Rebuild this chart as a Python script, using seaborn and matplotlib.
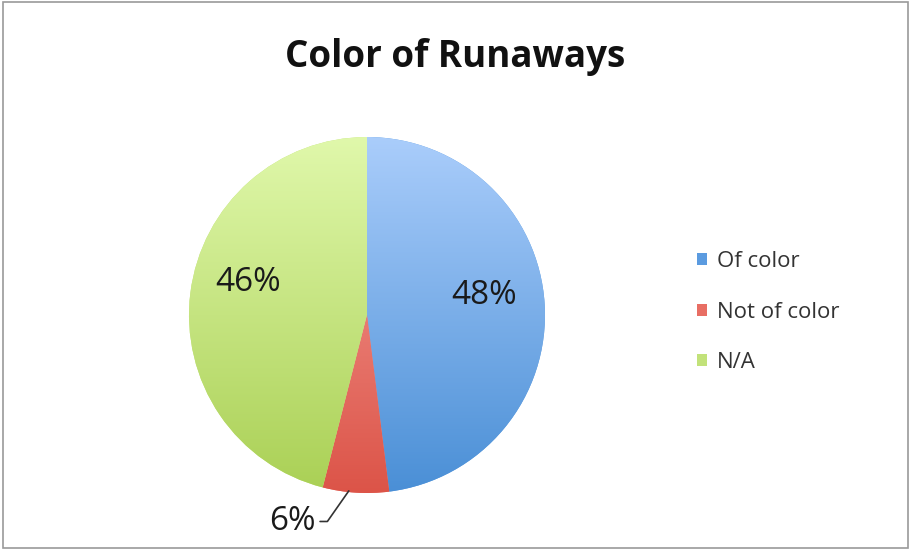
import numpy as np
import seaborn as sns
import matplotlib.pyplot as plt
from matplotlib.colors import LinearSegmentedColormap
from matplotlib.patches import Patch, Rectangle

categories = ['Of color', 'Not of color', 'N/A']
shares = [48, 6, 46]
# gradient colours, top -> bottom
top_colors = ['#aacdfb', '#f6a29c', '#e0f8ab']
bottom_colors = ['#4a8fd6', '#dc5448', '#aad055']
legend_colors = ['#5b9be0', '#e86e64', '#c2e27a']

sns.set_style('white')
plt.rcParams['font.family'] = ['Open Sans', 'DejaVu Sans']

fig = plt.figure(figsize=(9.11, 5.5), dpi=100)
r_px = 178
cx, cy = 367, 315
ax = fig.add_axes([(cx - r_px) / 911, (550 - cy - r_px) / 550, 2 * r_px / 911, 2 * r_px / 550])

wedges, texts, autotexts = ax.pie(shares, startangle=90, counterclock=False,
                                  colors=legend_colors, autopct='%d%%', pctdistance=0.68,
                                  textprops={'fontsize': 24, 'color': '#1a1a1a'},
                                  wedgeprops={'linewidth': 0})

# vertical gradient fill, clipped to each wedge
grad = np.linspace(0, 1, 256).reshape(-1, 1)
for w, c0, c1 in zip(wedges, top_colors, bottom_colors):
    cmap = LinearSegmentedColormap.from_list('g', [c0, c1])
    im = ax.imshow(grad, cmap=cmap, extent=[-1, 1, -1, 1], origin='upper',
                   aspect='auto', zorder=1.5)
    im.set_clip_path(w)

ax.set_xlim(-1, 1)
ax.set_ylim(-1, 1)
ax.set_aspect('equal')
ax.axis('off')

# nudge the big labels and move the small one outside with a leader line
autotexts[0].set_position((0.66, 0.11))
autotexts[2].set_position((-0.67, 0.18))
small = autotexts[1]
small.set_visible(False)
w = wedges[1]
mid = np.deg2rad((w.theta1 + w.theta2) / 2)
ax.annotate(small.get_text(), xy=(0.99 * np.cos(mid) - 0.04, 0.99 * np.sin(mid)),
            xytext=(-0.29, -1.16), ha='right', va='center', fontsize=24,
            color='#1a1a1a', annotation_clip=False,
            arrowprops=dict(arrowstyle='-', color='#333333', lw=1.2,
                            shrinkA=1, shrinkB=0,
                            connectionstyle='angle,angleA=0,angleB=55,rad=0'))

handles = [Patch(facecolor=c, edgecolor='none') for c in legend_colors]
fig.legend(handles, categories, loc='center left', bbox_to_anchor=(677 / 911, 1 - 312 / 550),
           frameon=False, fontsize=16, labelcolor='#333333', handlelength=0.45,
           handleheight=0.45, handletextpad=0.45, labelspacing=1.32)

fig.text(0.5, 1 - 57 / 550, 'Color of Runaways', ha='center', va='center',
         fontsize=26.5, fontweight='bold', color='#111111')

fig.add_artist(Rectangle((0.003, 0.004), 0.994, 0.992, transform=fig.transFigure,
                         fill=False, edgecolor='#9a9a9a', linewidth=1.2))

fig.savefig('out.png', dpi=100, facecolor='white')
